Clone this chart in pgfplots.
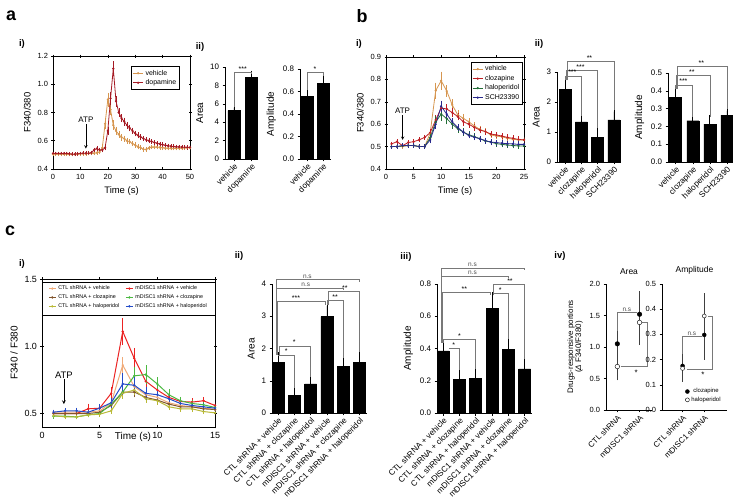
\documentclass[border=0pt]{standalone}
\usepackage{pgfplots}
\pgfplotsset{compat=1.18}
\usepackage{fontspec}
\setmainfont{Liberation Sans}
\newcommand{\fsz}[1]{\fontsize{#1}{#1}\selectfont}
\definecolor{tanc}{RGB}{214,150,80}
\definecolor{dredc}{RGB}{165,25,35}
\definecolor{credc}{RGB}{190,30,35}
\definecolor{hgreenc}{RGB}{35,110,55}
\definecolor{sbluec}{RGB}{40,40,140}
\definecolor{cvehc}{RGB}{240,170,120}
\definecolor{mvehc}{RGB}{235,35,35}
\definecolor{cclzc}{RGB}{130,85,45}
\definecolor{mclzc}{RGB}{75,185,65}
\definecolor{chalc}{RGB}{185,185,55}
\definecolor{mhalc}{RGB}{35,75,200}
\definecolor{brkc}{RGB}{120,120,120}
\tikzset{brk/.style={draw=brkc, line width=0.6pt}, st/.style={font=\fsz{7}, anchor=south, inner sep=0.8pt}}
\pgfplotsset{
  base/.style={scale only axis, anchor=south west, /pgf/number format/assume math mode=true, tick style={black, line width=0.5pt}},
  lc/.style={base, axis line style={line width=0.6pt}, tick align=center, major tick length=3bp,
    ticklabel style={font=\fsz{7.5}}, label style={font=\fsz{9.5}},
    every axis plot/.append style={line width=0.8pt, mark=*, mark size=0.7pt},
    legend cell align=left,
    legend image code/.code={\draw[mark repeat=2,mark phase=2] plot coordinates {(0bp,0bp) (5bp,0bp) (10bp,0bp)};}},
  bc/.style={base, axis x line*=bottom, axis y line*=left, axis line style={-, line width=0.9pt}, ybar, bar width=12bp,
    tick align=outside, major tick length=2.5bp, ymin=0,
    xticklabel style={rotate=45, anchor=north east, inner sep=1pt, font=\fsz{8.3}},
    yticklabel style={font=\fsz{8}}, ylabel style={font=\fsz{10}}, clip=false},
  sc/.style={base, axis x line*=bottom, axis y line*=left, axis line style={-, line width=0.9pt},
    tick align=outside, major tick length=2.5bp, ymin=0, xtick={0,1}, xticklabels={CTL shRNA,mDISC1 shRNA},
    xticklabel style={rotate=45, anchor=north east, inner sep=1pt, font=\fsz{8}},
    yticklabel style={font=\fsz{7.5}}, title style={font=\fsz{8.5}}, clip=false},
  bebar/.style={fill=black, draw=black, error bars/y dir=plus, error bars/y explicit,
    error bars/error bar style={line width=0.7pt, black},
    error bars/error mark options={line width=0.7pt, mark size=3.5bp, black}},
  lerr/.style={error bars/y dir=both, error bars/y explicit,
    error bars/error bar style={line width=0.5pt},
    error bars/error mark options={line width=0.5pt, mark size=1.2bp}},
  serr/.style={only marks, mark=*, mark size=2.3bp, error bars/y dir=both, error bars/y explicit,
    error bars/error bar style={line width=0.6pt, black!75},
    error bars/error mark options={line width=0.6pt, mark size=2bp, black!75}},
  onedec/.style={yticklabel style={/pgf/number format/fixed, /pgf/number format/fixed zerofill, /pgf/number format/precision=1}},
}
\begin{document}
\begin{tikzpicture}
\useasboundingbox (0,0) rectangle (733bp,500bp);
% panel labels
\node[font=\bfseries\fsz{18}] at (11bp,484bp) {a};
\node[font=\bfseries\fsz{18}] at (362bp,484bp) {b};
\node[font=\bfseries\fsz{18}] at (10bp,269bp) {c};
\node[font=\bfseries\fsz{9.5}] at (22bp,456bp) {i)};
\node[font=\bfseries\fsz{9.5}] at (200bp,453bp) {ii)};
\node[font=\bfseries\fsz{9.5}] at (359bp,456bp) {i)};
\node[font=\bfseries\fsz{9.5}] at (539bp,456bp) {ii)};
\node[font=\bfseries\fsz{9.5}] at (22bp,236bp) {i)};
\node[font=\bfseries\fsz{9.5}] at (239bp,244bp) {ii)};
\node[font=\bfseries\fsz{9.5}] at (406bp,243bp) {iii)};
\node[font=\bfseries\fsz{9.5}] at (560bp,244bp) {iv)};

% ---------------- a i
\begin{axis}[lc, at={(53bp,331bp)}, width=137bp, height=113bp, xmin=0, xmax=50, ymin=0.4, ymax=1.2,
  xtick={0,10,20,30,40,50}, ytick={0.4,0.6,0.8,1.0,1.2}, onedec, xlabel={Time (s)}, ylabel={F340/380},
  legend style={at={(0.927,0.91)}, anchor=north east, draw=black, line width=0.6pt, font=\fsz{7}, inner sep=1.5pt, row sep=-1pt}]
\addplot[color=tanc, lerr] table[x=t, y=v, y error=e] {
t v e
0 0.505 0.005
1 0.505 0.005
2 0.505 0.005
3 0.505 0.005
4 0.505 0.005
5 0.505 0.005
6 0.503 0.005
7 0.503 0.005
8 0.505 0.005
9 0.505 0.005
10 0.507 0.005
11 0.508 0.005
12 0.508 0.005
13 0.510 0.005
14 0.510 0.005
15 0.512 0.005
16 0.515 0.006
17 0.520 0.008
18 0.550 0.015
19 0.720 0.030
20 0.890 0.040
21 0.820 0.030
22 0.710 0.025
23 0.670 0.020
24 0.645 0.015
25 0.625 0.015
26 0.615 0.012
27 0.600 0.012
28 0.593 0.010
29 0.580 0.010
30 0.570 0.010
31 0.558 0.010
32 0.550 0.008
33 0.540 0.008
34 0.538 0.008
35 0.548 0.008
36 0.555 0.008
37 0.555 0.008
38 0.555 0.008
39 0.553 0.008
40 0.550 0.008
41 0.548 0.006
42 0.547 0.006
43 0.547 0.006
44 0.546 0.006
45 0.546 0.006
46 0.547 0.006
47 0.548 0.006
48 0.549 0.006
49 0.550 0.006
50 0.550 0.006
};
\addlegendentry{vehicle}
\addplot[color=dredc, lerr] table[x=t, y=v, y error=e] {
t v e
0 0.510 0.005
1 0.510 0.005
2 0.510 0.005
3 0.510 0.005
4 0.510 0.005
5 0.510 0.005
6 0.508 0.005
7 0.505 0.005
8 0.505 0.005
9 0.508 0.005
10 0.510 0.005
11 0.512 0.005
12 0.512 0.005
13 0.512 0.005
14 0.515 0.006
15 0.535 0.008
16 0.545 0.010
17 0.535 0.008
18 0.535 0.008
19 0.550 0.010
20 0.670 0.020
21 0.900 0.040
22 1.110 0.045
23 0.880 0.030
24 0.800 0.025
25 0.760 0.020
26 0.735 0.020
27 0.710 0.015
28 0.690 0.015
29 0.670 0.015
30 0.652 0.012
31 0.638 0.012
32 0.626 0.010
33 0.616 0.010
34 0.607 0.010
35 0.600 0.010
36 0.594 0.008
37 0.588 0.008
38 0.582 0.008
39 0.577 0.008
40 0.572 0.008
41 0.568 0.007
42 0.564 0.007
43 0.561 0.007
44 0.559 0.007
45 0.557 0.007
46 0.556 0.007
47 0.555 0.007
48 0.554 0.007
49 0.553 0.007
50 0.553 0.007
};
\addlegendentry{dopamine}
\node[font=\fsz{8}, anchor=south, inner sep=1pt] at (axis cs:12,0.72) {ATP};
\draw[-stealth, line width=0.5pt] (axis cs:12,0.72) -- (axis cs:12,0.545);
\end{axis}

% ---------------- a ii Area
\begin{axis}[bc, at={(225bp,341bp)}, width=33bp, height=92bp, xmin=-0.51, xmax=1.37, ymax=10,
  ytick={0,2,4,6,8,10}, xtick={0,1}, xticklabels={vehicle,dopamine}, ylabel={Area}]
\addplot[bebar] coordinates {(0,5.25) +- (0,0.33) (1,8.85) +- (0,0.37)};
\draw[brk] (axis cs:0,5.7) -- (axis cs:0,9.42) -- (axis cs:1,9.42) -- (axis cs:1,9.25);
\node[st] at (axis cs:0.5,9.42) {***};
\end{axis}

% ---------------- a ii Amplitude
\begin{axis}[bc, at={(300bp,341bp)}, width=31bp, height=90bp, xmin=-0.44, xmax=1.5, ymax=0.8,
  ytick={0,0.2,0.4,0.6,0.8}, onedec, xtick={0,1}, xticklabels={vehicle,dopamine}, ylabel={Amplitude}]
\addplot[bebar] coordinates {(0,0.554) +- (0,0.03) (1,0.673) +- (0,0.053)};
\draw[brk] (axis cs:0,0.613) -- (axis cs:0,0.77) -- (axis cs:1,0.77) -- (axis cs:1,0.74);
\node[st] at (axis cs:0.5,0.77) {*};
\end{axis}

% ---------------- b i
\begin{axis}[lc, at={(386bp,331bp)}, width=138bp, height=112bp, xmin=0, xmax=25, ymin=0.4, ymax=0.9,
  xtick={0,5,10,15,20,25}, ytick={0.4,0.5,0.6,0.7,0.8,0.9}, onedec, xlabel={Time (s)}, ylabel={F340/380},
  legend style={at={(0.993,0.955)}, anchor=north east, draw=black, line width=0.6pt, font=\fsz{7}, inner sep=1.5pt, row sep=-1pt}]
\addplot[color=tanc, lerr] table[x=t, y=v, y error=e] {
t v e
1 0.500 0.005
2 0.500 0.005
3 0.500 0.005
4 0.505 0.005
5 0.505 0.005
6 0.500 0.005
7 0.500 0.005
8 0.560 0.010
9 0.750 0.030
10 0.794 0.035
11 0.748 0.020
12 0.686 0.020
13 0.642 0.015
14 0.626 0.015
15 0.611 0.012
16 0.592 0.012
17 0.577 0.010
18 0.567 0.010
19 0.552 0.010
20 0.547 0.008
21 0.544 0.008
22 0.537 0.008
23 0.533 0.008
24 0.530 0.008
25 0.530 0.008
};
\addlegendentry{vehicle}
\addplot[color=credc, lerr] table[x=t, y=v, y error=e] {
t v e
1 0.512 0.005
2 0.522 0.005
3 0.504 0.005
4 0.518 0.005
5 0.522 0.005
6 0.530 0.006
7 0.541 0.006
8 0.562 0.010
9 0.619 0.015
10 0.672 0.020
11 0.668 0.015
12 0.652 0.015
13 0.634 0.012
14 0.611 0.012
15 0.600 0.010
16 0.586 0.010
17 0.574 0.010
18 0.567 0.008
19 0.556 0.008
20 0.552 0.008
21 0.547 0.008
22 0.541 0.008
23 0.537 0.008
24 0.532 0.008
25 0.530 0.008
};
\addlegendentry{clozapine}
\addplot[color=hgreenc, lerr] table[x=t, y=v, y error=e] {
t v e
1 0.500 0.005
2 0.500 0.005
3 0.503 0.005
4 0.505 0.005
5 0.505 0.005
6 0.500 0.005
7 0.500 0.005
8 0.540 0.010
9 0.610 0.020
10 0.645 0.025
11 0.625 0.020
12 0.600 0.015
13 0.580 0.012
14 0.565 0.012
15 0.553 0.010
16 0.545 0.010
17 0.535 0.008
18 0.525 0.008
19 0.520 0.008
20 0.513 0.008
21 0.510 0.008
22 0.507 0.008
23 0.505 0.008
24 0.503 0.008
25 0.503 0.008
};
\addlegendentry{haloperidol}
\addplot[color=sbluec, lerr] table[x=t, y=v, y error=e] {
t v e
1 0.500 0.005
2 0.500 0.005
3 0.505 0.005
4 0.505 0.005
5 0.505 0.005
6 0.500 0.005
7 0.500 0.005
8 0.530 0.010
9 0.600 0.015
10 0.680 0.020
11 0.645 0.015
12 0.610 0.012
13 0.585 0.010
14 0.565 0.010
15 0.550 0.008
16 0.542 0.008
17 0.535 0.008
18 0.527 0.008
19 0.520 0.008
20 0.518 0.008
21 0.515 0.008
22 0.513 0.008
23 0.512 0.008
24 0.510 0.008
25 0.510 0.008
};
\addlegendentry{SCH23390}
\node[font=\fsz{8}, anchor=south, inner sep=1pt] at (axis cs:3,0.641) {ATP};
\draw[-stealth, line width=0.5pt] (axis cs:3,0.641) -- (axis cs:3,0.53);
\end{axis}

% ---------------- b ii Area
\begin{axis}[bc, at={(557bp,338bp)}, width=63bp, height=90bp, xmin=-0.49, xmax=3.37, ymax=3,
  ytick={0,1,2,3}, xtick={0,1,2,3}, xticklabels={vehicle,clozapine,haloperidol,SCH23390}, ylabel={Area}]
\addplot[bebar] coordinates {(0,2.42) +- (0,0.25) (1,1.34) +- (0,0.15) (2,0.81) +- (0,0.26) (3,1.40) +- (0,0.28)};
\draw[brk] (axis cs:0,2.72) -- (axis cs:0,2.87) -- (axis cs:1,2.87) -- (axis cs:1,1.52);
\draw[brk] (axis cs:0.06,2.72) -- (axis cs:0.06,3.06) -- (axis cs:2,3.06) -- (axis cs:2,1.12);
\draw[brk] (axis cs:0.12,2.72) -- (axis cs:0.12,3.34) -- (axis cs:3,3.34) -- (axis cs:3,1.72);
\node[st] at (axis cs:0.45,2.87) {***};
\node[st] at (axis cs:0.95,3.06) {***};
\node[st] at (axis cs:1.5,3.34) {**};
\end{axis}

% ---------------- b ii Amplitude
\begin{axis}[bc, at={(668bp,338bp)}, width=64bp, height=89bp, xmin=-0.45, xmax=3.3, ymax=0.5,
  ytick={0,0.1,0.2,0.3,0.4,0.5}, onedec, xtick={0,1,2,3}, xticklabels={vehicle,clozapine,haloperidol,SCH23390}, ylabel={Amplitude}]
\addplot[bebar] coordinates {(0,0.363) +- (0,0.041) (1,0.232) +- (0,0.013) (2,0.213) +- (0,0.032) (3,0.264) +- (0,0.023)};
\draw[brk] (axis cs:0,0.41) -- (axis cs:0,0.433) -- (axis cs:1,0.433) -- (axis cs:1,0.255);
\draw[brk] (axis cs:0.06,0.41) -- (axis cs:0.06,0.485) -- (axis cs:2,0.485) -- (axis cs:2,0.255);
\draw[brk] (axis cs:0.12,0.41) -- (axis cs:0.12,0.535) -- (axis cs:3,0.535) -- (axis cs:3,0.295);
\node[st] at (axis cs:0.45,0.433) {***};
\node[st] at (axis cs:0.95,0.485) {**};
\node[st] at (axis cs:1.5,0.535) {**};
\end{axis}

% ---------------- c i
\begin{axis}[lc, at={(42bp,73bp)}, width=173bp, height=148bp, xmin=0, xmax=15, ymin=0.4, ymax=1.5,
  xtick={0,5,10,15}, ytick={0.5,1.0,1.5}, onedec, ticklabel style={font=\fsz{9}},
  xlabel={Time (s)}, ylabel={F340 / F380}, label style={font=\fsz{10}},
  xlabel style={at={(axis description cs:0.526,0)}, anchor=north, yshift=-2bp},
  every axis plot/.append style={line width=1pt, mark size=0.6pt},
  legend columns=2, legend style={at={(0.5,0.975)}, anchor=north, draw=none, fill=none, font=\fsz{5.4}, inner sep=1pt, row sep=-0.5pt, /tikz/every even column/.append style={column sep=4bp}},
  legend image code/.code={\draw[mark repeat=2,mark phase=2] plot coordinates {(0bp,0bp) (3.5bp,0bp) (7bp,0bp)};}]
\addplot[color=cvehc, lerr] table[x=t, y=v, y error=e] {
t v e
1 0.51 0.01
2 0.51 0.01
3 0.51 0.01
4 0.51 0.01
5 0.52 0.015
6 0.58 0.02
7 0.86 0.05
8 0.70 0.04
9 0.64 0.03
10 0.62 0.02
11 0.58 0.02
12 0.56 0.02
13 0.55 0.015
14 0.54 0.015
15 0.53 0.015
};
\addlegendentry{CTL shRNA + vehicle}
\addplot[color=mvehc, lerr] table[x=t, y=v, y error=e] {
t v e
1 0.50 0.01
2 0.50 0.01
3 0.50 0.015
4 0.535 0.03
5 0.54 0.02
6 0.65 0.04
7 1.11 0.09
8 0.91 0.07
9 0.74 0.05
10 0.675 0.04
11 0.62 0.03
12 0.59 0.02
13 0.585 0.02
14 0.595 0.02
15 0.56 0.02
};
\addlegendentry{mDISC1 shRNA + vehicle}
\addplot[color=cclzc, lerr] table[x=t, y=v, y error=e] {
t v e
1 0.50 0.01
2 0.50 0.01
3 0.50 0.01
4 0.50 0.01
5 0.51 0.01
6 0.56 0.02
7 0.66 0.03
8 0.66 0.03
9 0.62 0.02
10 0.60 0.02
11 0.57 0.02
12 0.55 0.015
13 0.55 0.015
14 0.535 0.015
15 0.53 0.015
};
\addlegendentry{CTL shRNA + clozapine}
\addplot[color=mclzc, lerr] table[x=t, y=v, y error=e] {
t v e
1 0.48 0.01
2 0.48 0.01
3 0.475 0.01
4 0.49 0.01
5 0.50 0.015
6 0.57 0.03
7 0.66 0.04
8 0.78 0.06
9 0.79 0.06
10 0.72 0.04
11 0.64 0.03
12 0.595 0.02
13 0.575 0.02
14 0.565 0.02
15 0.545 0.02
};
\addlegendentry{mDISC1 shRNA + clozapine}
\addplot[color=chalc, lerr] table[x=t, y=v, y error=e] {
t v e
1 0.485 0.01
2 0.475 0.01
3 0.475 0.01
4 0.49 0.01
5 0.495 0.01
6 0.52 0.015
7 0.65 0.03
8 0.675 0.03
9 0.61 0.02
10 0.595 0.02
11 0.55 0.015
12 0.535 0.015
13 0.535 0.015
14 0.515 0.01
15 0.505 0.01
};
\addlegendentry{CTL shRNA + haloperidol}
\addplot[color=mhalc, lerr] table[x=t, y=v, y error=e] {
t v e
1 0.51 0.01
2 0.52 0.01
3 0.52 0.015
4 0.51 0.015
5 0.54 0.02
6 0.58 0.03
7 0.72 0.07
8 0.71 0.05
9 0.65 0.04
10 0.64 0.03
11 0.61 0.02
12 0.575 0.02
13 0.56 0.02
14 0.55 0.02
15 0.54 0.02
};
\addlegendentry{mDISC1 shRNA + haloperidol}
\draw[line width=0.6pt] (axis cs:0,1.233) -- (axis cs:15,1.233);
\draw[line width=0.6pt] (axis cs:0,1.478) -- (axis cs:15,1.478);
\node[font=\fsz{9.5}, anchor=south, inner sep=1pt] at (axis cs:1.9,0.755) {ATP};
\draw[-stealth, line width=0.7pt] (axis cs:1.9,0.755) -- (axis cs:1.9,0.57);
\end{axis}

% ---------------- c ii Area
\begin{axis}[bc, at={(272bp,87bp)}, width=95bp, height=129bp, xmin=-0.37, xmax=5.46, ymax=4,
  ytick={0,1,2,3,4}, xtick={0,...,5},
  xticklabels={CTL shRNA + vehicle,CTL shRNA + clozapine,CTL shRNA + haloperidol,mDISC1 shRNA + vehicle,mDISC1 shRNA + clozapine,mDISC1 shRNA + haloperidol},
  xticklabel style={font=\fsz{8.2}}, ylabel={Area}]
\addplot[bebar] coordinates {(0,1.58) +- (0,0.19) (1,0.55) +- (0,0.18) (2,0.90) +- (0,0.20) (3,2.99) +- (0,0.33) (4,1.44) +- (0,0.22) (5,1.58) +- (0,0.29)};
\draw[brk] (axis cs:0,1.8) -- (axis cs:1,1.8) -- (axis cs:1,0.76);
\draw[brk] (axis cs:0.08,1.8) -- (axis cs:0.08,2.08) -- (axis cs:2,2.08) -- (axis cs:2,1.12);
\draw[brk] (axis cs:-0.04,1.8) -- (axis cs:-0.04,3.45) -- (axis cs:2.9,3.45) -- (axis cs:2.9,3.36);
\draw[brk] (axis cs:3.05,3.34) -- (axis cs:3.05,3.5) -- (axis cs:4,3.5) -- (axis cs:4,1.7);
\draw[brk] (axis cs:3.1,3.34) -- (axis cs:3.1,3.76) -- (axis cs:5,3.76) -- (axis cs:5,1.9);
\draw[brk] (axis cs:-0.08,1.8) -- (axis cs:-0.08,3.88) -- (axis cs:4,3.88) -- (axis cs:4,3.8);
\draw[brk] (axis cs:-0.12,1.8) -- (axis cs:-0.12,4.15) -- (axis cs:5,4.15) -- (axis cs:5,4.07);
\node[st] at (axis cs:0.5,1.8) {*};
\node[st] at (axis cs:1,2.08) {*};
\node[st] at (axis cs:1.1,3.45) {***};
\node[st] at (axis cs:3.5,3.5) {**};
\node[st] at (axis cs:4.1,3.76) {**};
\node[st, font=\fsz{6.5}, text=black!70] at (axis cs:1.7,3.88) {n.s};
\node[st, font=\fsz{6.5}, text=black!70] at (axis cs:1.8,4.15) {n.s};
\end{axis}

% ---------------- c iii Amplitude
\begin{axis}[bc, at={(437bp,87bp)}, width=95bp, height=129bp, xmin=-0.37, xmax=5.45, ymax=0.8,
  ytick={0,0.2,0.4,0.6,0.8}, onedec, xtick={0,...,5},
  xticklabels={CTL shRNA + vehicle,CTL shRNA + clozapine,CTL shRNA + haloperidol,mDISC1 shRNA + vehicle,mDISC1 shRNA + clozapine,mDISC1 shRNA + haloperidol},
  xticklabel style={font=\fsz{8.2}}, ylabel={Amplitude}]
\addplot[bebar] coordinates {(0,0.385) +- (0,0.047) (1,0.209) +- (0,0.047) (2,0.215) +- (0,0.045) (3,0.647) +- (0,0.079) (4,0.395) +- (0,0.058) (5,0.273) +- (0,0.056)};
\draw[brk] (axis cs:0.35,0.40) -- (axis cs:1,0.40) -- (axis cs:1,0.265);
\draw[brk] (axis cs:0,0.435) -- (axis cs:0,0.457) -- (axis cs:2,0.457) -- (axis cs:2,0.27);
\draw[brk] (axis cs:-0.04,0.435) -- (axis cs:-0.04,0.746) -- (axis cs:2.9,0.746) -- (axis cs:2.9,0.73);
\draw[brk] (axis cs:3.05,0.73) -- (axis cs:3.05,0.742) -- (axis cs:4,0.742) -- (axis cs:4,0.46);
\draw[brk] (axis cs:3.1,0.73) -- (axis cs:3.1,0.80) -- (axis cs:5,0.80) -- (axis cs:5,0.335);
\draw[brk] (axis cs:-0.08,0.435) -- (axis cs:-0.08,0.85) -- (axis cs:4,0.85) -- (axis cs:4,0.835);
\draw[brk] (axis cs:-0.12,0.435) -- (axis cs:-0.12,0.90) -- (axis cs:5,0.90) -- (axis cs:5,0.885);
\node[st] at (axis cs:0.65,0.40) {*};
\node[st] at (axis cs:1,0.457) {*};
\node[st] at (axis cs:1.3,0.746) {**};
\node[st] at (axis cs:3.5,0.742) {*};
\node[st] at (axis cs:4.1,0.80) {**};
\node[st, font=\fsz{6.5}, text=black!70] at (axis cs:1.8,0.85) {n.s};
\node[st, font=\fsz{6.5}, text=black!70] at (axis cs:1.8,0.90) {n.s};
\end{axis}

% ---------------- c iv Area
\begin{axis}[sc, at={(606bp,90bp)}, width=46bp, height=126bp, xmin=-0.51, xmax=1.56, ymax=2,
  ytick={0,0.5,1,1.5,2}, onedec, title={Area},
  ylabel={Drugs-responsive portions\\(\textit{Δ} F340/F380)}, ylabel style={align=center, font=\fsz{8}}]
\addplot[serr, black] coordinates {(0,1.05) +- (0,0.18) (1,1.52) +- (0,0.33)};
\addplot[serr, black, mark options={fill=white}] coordinates {(0,0.69) +- (0,0.19) (1,1.39) +- (0,0.33)};
\draw[brk] (axis cs:0,1.25) -- (axis cs:0,1.545) -- (axis cs:0.88,1.545);
\draw[brk] (axis cs:0.15,0.69) -- (axis cs:1.36,0.69) -- (axis cs:1.36,1.39) -- (axis cs:1.13,1.39);
\node[st, font=\fsz{6.5}, text=black!70] at (axis cs:0.43,1.545) {n.s};
\node[font=\fsz{8}, anchor=north, inner sep=1pt] at (axis cs:0.85,0.66) {*};
\end{axis}

% ---------------- c iv Amplitude
\begin{axis}[sc, at={(662bp,90bp)}, width=65bp, height=126bp, xmin=-0.95, xmax=2.05, ymax=0.5,
  ytick={0,0.1,0.2,0.3,0.4,0.5}, onedec, title={Amplitude},
  legend style={at={(axis cs:0.12,0.02)}, anchor=south west, draw=none, fill=none, font=\fsz{6}, inner sep=0pt, row sep=-1.5pt},
  legend image code/.code={\draw plot coordinates {(2bp,0bp)};}]
\addplot[serr, black, mark size=2bp] coordinates {(0,0.175) +- (0,0.045) (1,0.298) +- (0,0.09)};
\addlegendentry{clozapine}
\addplot[serr, black, mark size=2bp, mark options={fill=white}] coordinates {(0,0.165) +- (0,0.045) (1,0.373) +- (0,0.083)};
\addlegendentry{haloperidol}
\draw[brk] (axis cs:0,0.222) -- (axis cs:0,0.291) -- (axis cs:0.88,0.291);
\draw[brk] (axis cs:0.2,0.161) -- (axis cs:1.38,0.161) -- (axis cs:1.38,0.373) -- (axis cs:1.15,0.373);
\node[st, font=\fsz{6.5}, text=black!70] at (axis cs:0.43,0.291) {n.s};
\node[font=\fsz{8}, anchor=north, inner sep=1pt] at (axis cs:0.94,0.155) {*};
\end{axis}
\end{tikzpicture}
\end{document}
